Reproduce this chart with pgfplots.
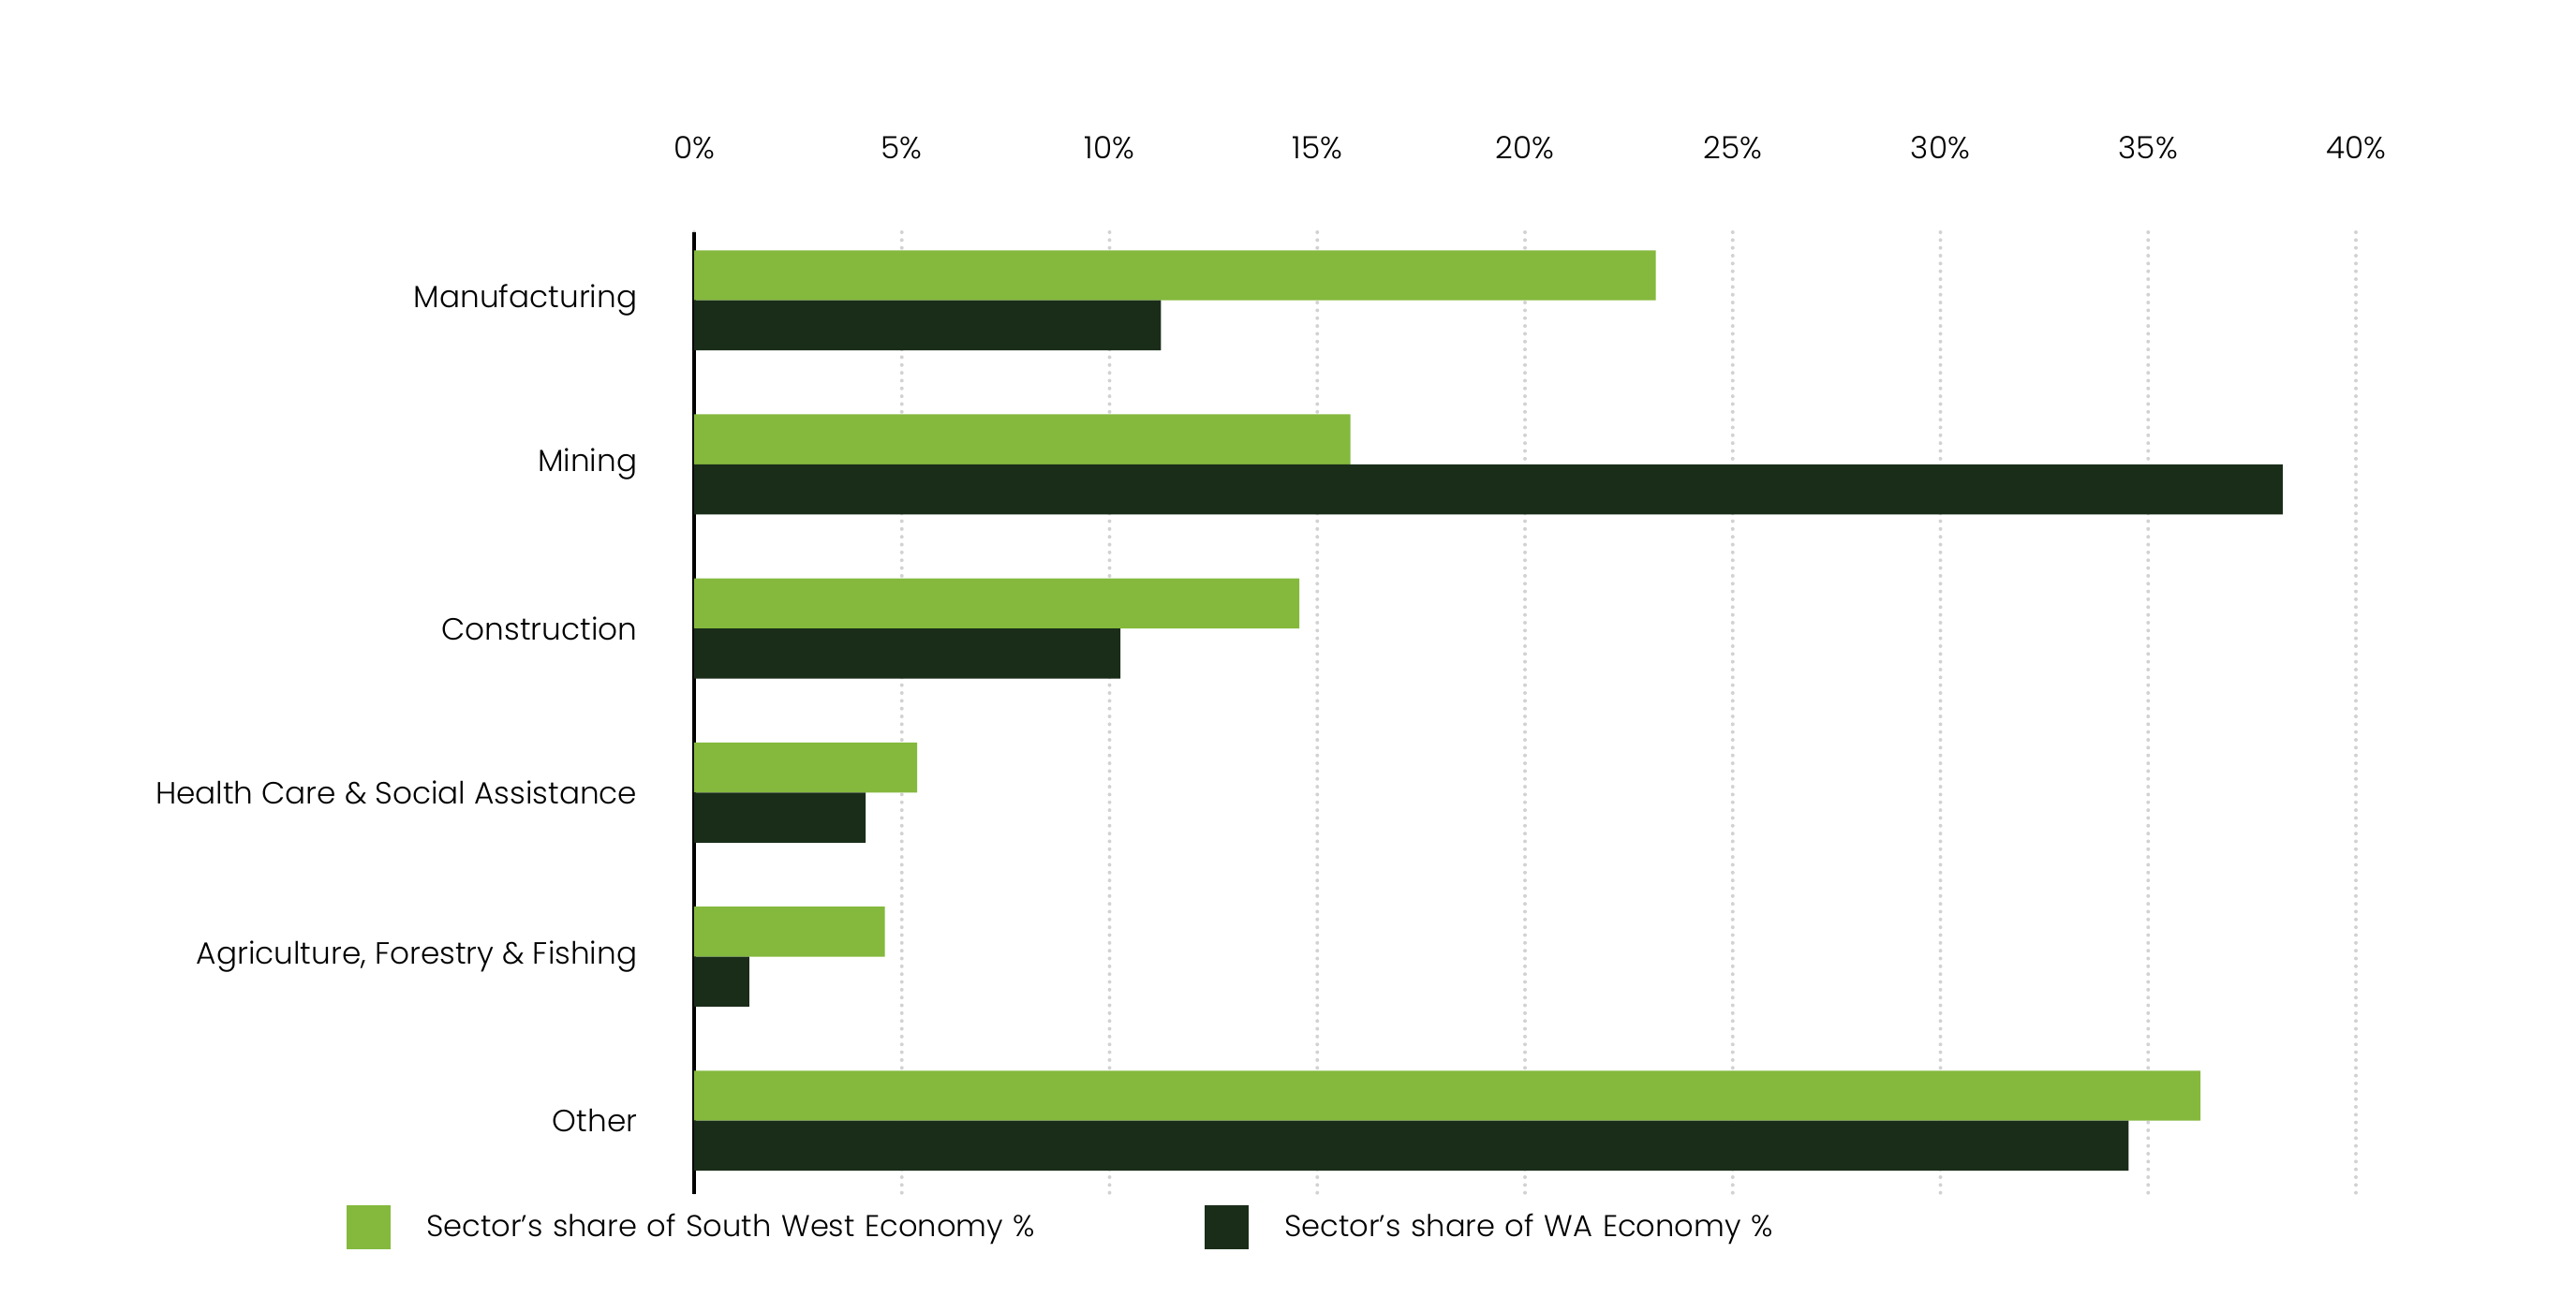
\documentclass[border=0pt]{standalone}
\usepackage{pgfplots}
\pgfplotsset{compat=1.18}
\usepackage{fontspec}
\setmainfont{Poppins Light}
\definecolor{swgreen}{RGB}{132,185,61}
\definecolor{wadark}{RGB}{26,45,25}
\begin{document}
\begin{tikzpicture}
\path[use as bounding box] (0,0) rectangle (310mm,157.82mm);
\begin{axis}[
  at={(83.53mm,14.09mm)}, anchor=south west,
  scale only axis, width=199.98mm, height=115.77mm,
  xbar=0pt, bar width=0.305,
  xmin=0, xmax=40, ymin=-0.415, ymax=5.447, y dir=reverse,
  axis x line*=top, axis y line*=left,
  x axis line style={draw=none},
  y axis line style={black, line width=0.45mm},
  xtick={0,5,...,40},
  xticklabels={0\%,5\%,10\%,15\%,20\%,25\%,30\%,35\%,40\%},
  ytick={0,...,5},
  yticklabels={Manufacturing,Mining,Construction,Health Care \& Social Assistance,{Agriculture, Forestry \& Fishing},Other},
  major tick length=0pt,
  xmajorgrids, major grid style={gray!35, line width=0.45mm, line cap=round, dash pattern=on 0pt off 0.94mm},
  tick label style={font=\fontsize{10.5pt}{12.5pt}\selectfont, text=black},
  xticklabel style={anchor=base, yshift=8.8mm},
  yticklabel style={anchor=east, xshift=-5.6mm},
  legend style={at={(-0.2091,-0.0346)}, anchor=west, draw=none, inner sep=0pt, outer sep=0pt,
    legend columns=2, font=\fontsize{10.3pt}{12.5pt}\selectfont,
    nodes={inner xsep=0pt, text width=93.7mm, align=left},
    /tikz/every odd column/.append style={column sep=4.28mm},
    /tikz/every even column/.append style={column sep=0mm}},
  legend image code/.code={\fill[#1] (0mm,-2.65mm) rectangle (5.3mm,2.65mm);},
]
\addplot[fill=swgreen, draw=none] coordinates {(23.15,0) (15.80,1) (14.57,2) (5.37,3) (4.59,4) (36.26,5)};
\addplot[fill=wadark, draw=none] coordinates {(11.24,0) (38.24,1) (10.26,2) (4.13,3) (1.33,4) (34.53,5)};
\legend{Sector’s share of South West Economy \%, Sector’s share of WA Economy \%}
\end{axis}
\end{tikzpicture}
\end{document}
